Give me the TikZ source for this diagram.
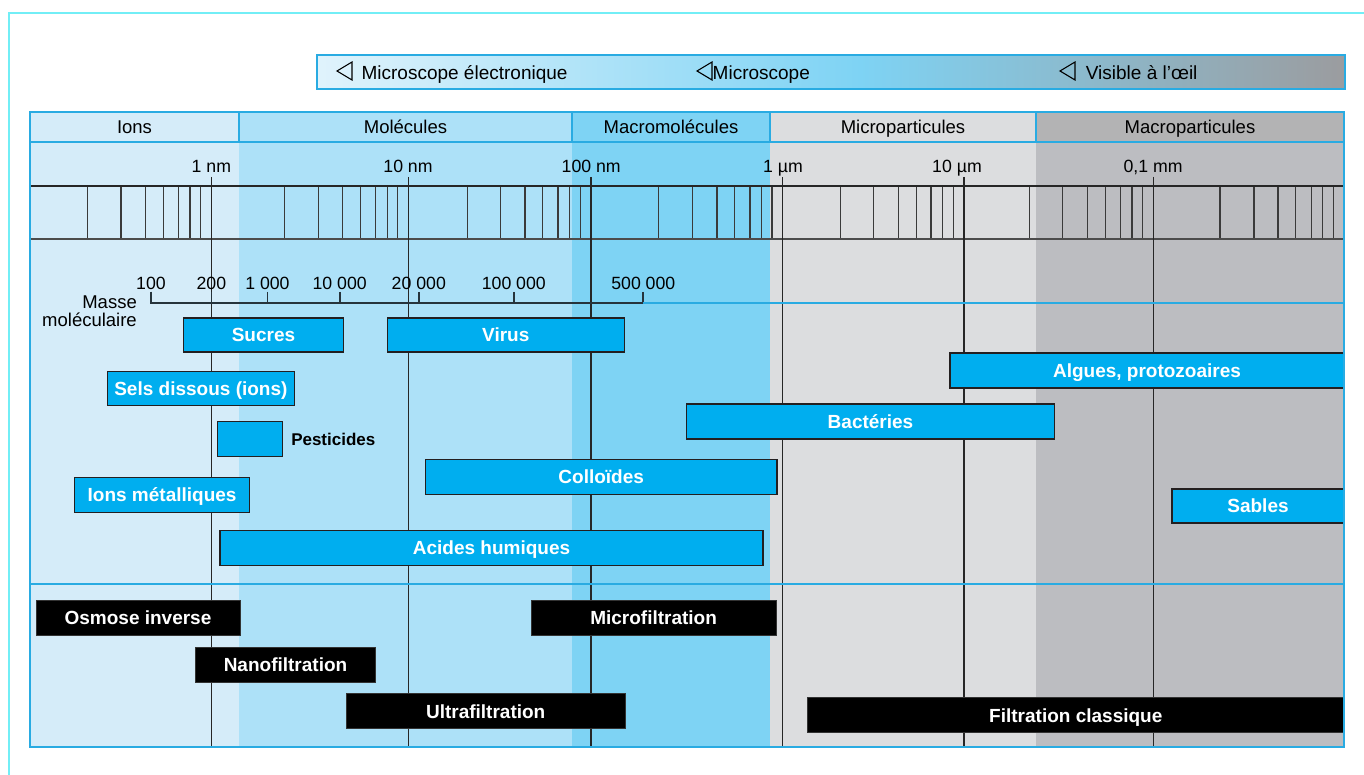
\documentclass[tikz,border=0pt]{standalone}
\usepackage{fontspec}
\setmainfont{Liberation Sans}
\usepackage{tikz}
\usetikzlibrary{positioning}

\definecolor{frameCyan}{HTML}{72EEF6}
\definecolor{tabRule}{HTML}{29ABE2}
\definecolor{bandIons}{HTML}{D5ECF9}
\definecolor{bandMol}{HTML}{ADE1F8}
\definecolor{bandMacro}{HTML}{7ED3F4}
\definecolor{bandMicro}{HTML}{DCDDDF}
\definecolor{bandPart}{HTML}{BCBDC1}
\definecolor{headPart}{HTML}{B3B3B4}
\definecolor{boxBlue}{HTML}{00AEEF}
\definecolor{boxEdge}{HTML}{231F20}
\definecolor{legLeft}{HTML}{E0F3FC}
\definecolor{legGray}{HTML}{9B9C9F}
\definecolor{rulerInk}{HTML}{3A3A3A}
\definecolor{massInk}{HTML}{26343C}

\begin{document}
\begin{tikzpicture}[x=1pt,y=-1pt,
  label/.style={inner sep=0pt, font=\fontsize{18.5}{20}\selectfont},
  small/.style={inner sep=0pt, font=\fontsize{17.7}{19}\selectfont},
  bluebox/.style={draw=boxEdge, fill=boxBlue, line width=1.1, text=white, inner sep=0pt,
    text height=13.6pt, text depth=0pt, font=\bfseries\fontsize{19}{20}\selectfont},
  filterbox/.style={draw=black!80, fill=black, line width=0.8, text=white, inner sep=0pt,
    text height=13.6pt, text depth=0pt, font=\bfseries\fontsize{19}{20}\selectfont},
  sizeline/.style={draw=black!85, line width=1.2},
  rulertick/.style={draw=rulerInk, line width=1.1},
  massline/.style={draw=massInk, line width=1.8}]

\useasboundingbox (0,0) rectangle (1364,775);
\fill[white] (0,0) rectangle (1364,775);
\draw[frameCyan, line width=1.5] (1364,13) -- (9,13) -- (9,775);

% legend bar
\shade[left color=legLeft, right color=bandMacro] (317,55) rectangle (860,89);
\shade[left color=bandMacro, right color=legGray] (860,55) rectangle (1345,89);
\draw[tabRule, line width=1.3] (317,55) rectangle (1345,89);
\foreach \x in {337,697,1060}
  \draw[line width=1.1] (\x,71) -- (\x+15,62) -- (\x+15,80) -- cycle;
\node[label, font=\fontsize{19}{20}\selectfont, anchor=base west] (elec) at (361.4,79.5) {Microscope électronique};
\node[label, font=\fontsize{19}{20}\selectfont, anchor=base west] (micro) at (712.5,79.5) {Microscope};
\node[label, font=\fontsize{19}{20}\selectfont, anchor=base west] (oeil) at (1085.7,79.5) {Visible à l’œil};

% bands
\foreach \a/\b/\c in {30/239/bandIons,239/572/bandMol,572/770/bandMacro,770/1036/bandMicro,1036/1344/bandPart}
  \fill[\c] (\a,142) rectangle (\b,747);

% header row
\foreach \a/\b/\c/\t [count=\i] in {30/239/bandIons/Ions,239/572/bandMol/Molécules,
    572/770/bandMacro/Macromolécules,770/1036/bandMicro/Microparticules,1036/1344/headPart/Macroparticules}{
  \filldraw[fill=\c, draw=tabRule, line width=1.2] (\a,112) rectangle (\b,142);
  \node[label, anchor=base] (head\i) at ({(\a+\b)/2},133.5) {\t};
}

% log ruler
\foreach \x in {87.7,121,145.7,163.3,178.7,190,200.7,
    284.3,318.3,342.3,360.3,375.7,387.3,397.7,
    467.3,500.7,525,542.7,558,569.7,580.3,
    658.7,692.7,717,734.3,750,761.3,772,
    840.3,873.7,898.3,916.7,931,942.3,953.7,
    1029.3,1062.3,1087.3,1105.3,1120.7,1132,1142.7,
    1220,1254,1278,1295.7,1311.3,1322.7,1333.3}
  \draw[rulertick] (\x,186) -- (\x,239);
\draw[draw=black!85, line width=1.3] (30,186) -- (1344,186);
\draw[draw=black!70, line width=2.2] (30,239) -- (1344,239);

% size lines
\foreach \x/\lx/\t [count=\i] in {211.7/211.4/1 nm,408.7/408/10 nm,591/591.2/100 nm,
    782.7/783/1 µm,964/957/10 µm,1153.3/1153/{0,1 mm}}{
  \draw[sizeline] (\x,177) -- (\x,747);
  \node[small, anchor=base] (size\i) at (\lx,172.5) {\t};
}

% molecular mass scale
\draw[massline] (151,291.7) -- (151,303) -- (643.3,303) -- (643.3,291.7);
\foreach \x/\t [count=\i] in {151/100,211.4/200,267.4/1 000,339.7/10 000,418.8/20 000,513.8/100 000,643.3/500 000}{
  \draw[massline] (\x,292) -- (\x,303);
  \node[small, anchor=base] (mass\i) at (\x,290) {\t};
}
\node[label, anchor=base east] (masse) at (137,308.3) {Masse};
\node[label, anchor=base east] (molec) at (137,326.7) {moléculaire};

\draw[tabRule, line width=1.3] (643.3,303) -- (1344,303);
\draw[tabRule, line width=1.3] (30,584) -- (1344,584);

% particles
\node[bluebox, minimum width=160, minimum height=34] (sucres) at (263.5,335) {Sucres};
\node[bluebox, minimum width=236.5, minimum height=34] (virus) at (505.8,335) {Virus};
\node[bluebox, minimum width=186.6, minimum height=34.4] (sels) at (200.9,388.5) {Sels dissous (ions)};
\node[bluebox, minimum width=65, minimum height=35] (pest) at (250,439) {};
\node[inner sep=0pt, text height=12.2pt, text depth=0pt, font=\bfseries\fontsize{17}{18}\selectfont,
  right=8pt of pest] (pestlbl) {Pesticides};
\node[bluebox, minimum width=175, minimum height=34.7] (metaux) at (162.1,494.7) {Ions métalliques};
\node[bluebox, minimum width=351.6, minimum height=35] (colloides) at (601.2,476.8) {Colloïdes};
\node[bluebox, minimum width=543, minimum height=35] (humiques) at (491.5,547.8) {Acides humiques};
\node[bluebox, minimum width=394, minimum height=35] (algues) at (1147,370.5) {Algues, protozoaires};
\node[bluebox, minimum width=368, minimum height=35] (bacteries) at (870.5,421.5) {Bactéries};
\node[bluebox, minimum width=172, minimum height=34] (sables) at (1258,506) {Sables};

% separation processes
\node[filterbox, minimum width=204, minimum height=35] (osmose) at (138,617.5) {Osmose inverse};
\node[filterbox, minimum width=180, minimum height=35] (nano) at (285.5,664.5) {Nanofiltration};
\node[filterbox, minimum width=278.6, minimum height=35] (ultra) at (485.7,711.3) {Ultrafiltration};
\node[filterbox, minimum width=244.7, minimum height=35] (microf) at (653.6,617.5) {Microfiltration};
\node[filterbox, minimum width=536.5, minimum height=35] (classique) at (1075.8,715.2) {Filtration classique};

\draw[tabRule, line width=1.3] (30,112) rectangle (1344,747);
\end{tikzpicture}
\end{document}
